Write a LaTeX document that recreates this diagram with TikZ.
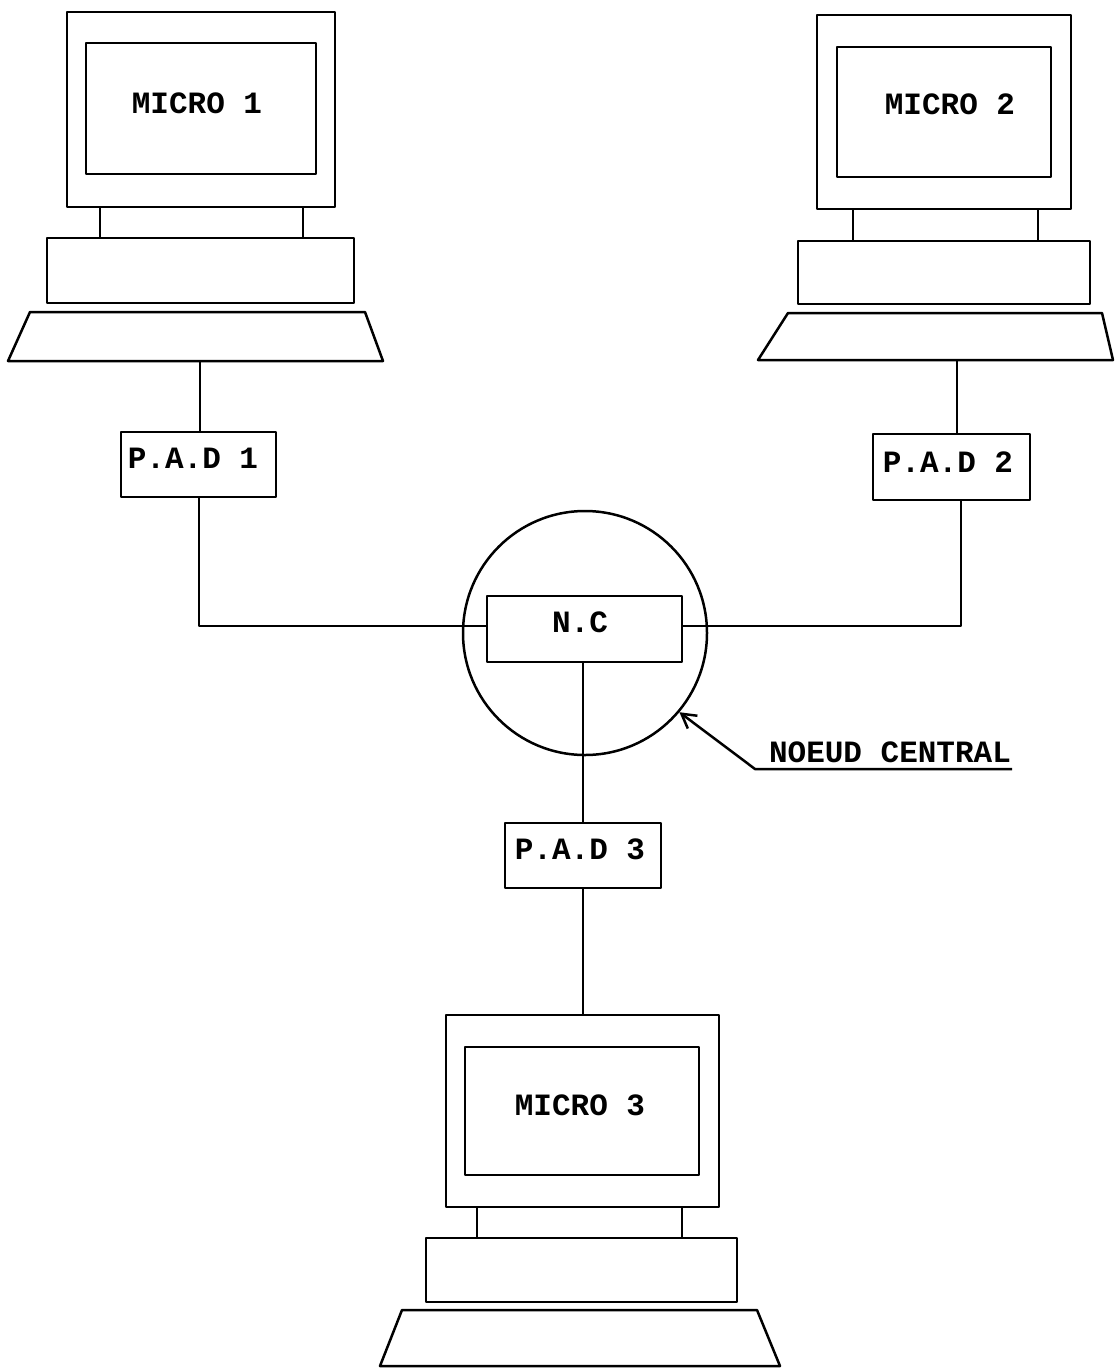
\documentclass[tikz,border=0pt]{standalone}
\usepackage{fontspec}
\setmonofont{Liberation Mono}
\usetikzlibrary{arrows.meta}
\begin{document}
\begin{tikzpicture}[x=1pt,y=-1pt,line width=2.5pt,line join=round,
  frame/.style={draw,line width=2.5pt,inner sep=0pt,outer sep=0pt},
  lbl/.style={inner sep=0pt,anchor=base,font=\ttfamily\bfseries\fontsize{31}{31}\selectfont}]
\useasboundingbox[fill=white] (0,0) rectangle (1119,1369);

% ---------- MICRO 1 ----------
\node[frame,minimum width=268pt,minimum height=195pt] (mon1) at (201,109.5) {};
\node[frame,minimum width=230pt,minimum height=131pt] (scr1) at (201,108.5) {};
\node[lbl] (t1) at (197,113) {MICRO 1};
\node[frame,minimum width=307pt,minimum height=65pt] (base1) at (200.5,270.5) {};
\draw (100,207) -- (100,238) (303,207) -- (303,238);
\draw (30,312) -- (365,312) -- (383,361) -- (8,361) -- cycle;
\coordinate (kb1) at (200,361);

% ---------- MICRO 2 ----------
\node[frame,minimum width=254pt,minimum height=194pt] (mon2) at (944,112) {};
\node[frame,minimum width=214pt,minimum height=130pt] (scr2) at (944,112) {};
\node[lbl] (t2) at (950,114) {MICRO 2};
\node[frame,minimum width=292pt,minimum height=63pt] (base2) at (944,272.5) {};
\draw (853,209) -- (853,241) (1038,209) -- (1038,241);
\draw (788,313) -- (1102,313) -- (1113,360) -- (758,360) -- cycle;
\coordinate (kb2) at (957,360);

% ---------- central node ----------
\node[draw,circle,line width=2.5pt,inner sep=0pt,minimum size=244pt] (circ) at (585,633) {};
\node[frame,fill=white,minimum width=195pt,minimum height=66pt] (nc) at (584.5,629) {};
\node[lbl] (tnc) at (580,632) {N.C};

% ---------- PADs ----------
\node[frame,minimum width=155pt,minimum height=65pt] (pad1) at (198.5,464.5) {};
\node[lbl] (tp1) at (193,468) {P.A.D 1};
\node[frame,minimum width=157pt,minimum height=66pt] (pad2) at (951.5,467) {};
\node[lbl] (tp2) at (948,472) {P.A.D 2};
\node[frame,minimum width=156pt,minimum height=65pt] (pad3) at (583,855.5) {};
\node[lbl] (tp3) at (580,859) {P.A.D 3};

% ---------- MICRO 3 ----------
\node[frame,minimum width=273pt,minimum height=192pt] (mon3) at (582.5,1111) {};
\node[frame,minimum width=234pt,minimum height=128pt] (scr3) at (582,1111) {};
\node[lbl] (t3) at (580,1115) {MICRO 3};
\node[frame,minimum width=311pt,minimum height=64pt] (base3) at (581.5,1270) {};
\draw (477,1207) -- (477,1238) (682,1207) -- (682,1238);
\draw (402,1310) -- (757,1310) -- (780,1366) -- (380,1366) -- cycle;

% ---------- connectors ----------
\coordinate (j1) at (199,626);
\coordinate (j2) at (961,626);
\draw (kb1) -- (kb1 |- pad1.north);
\draw (pad1.south -| j1) -- (j1) -- (j1 -| nc.west);
\draw (kb2) -- (kb2 |- pad2.north);
\draw (pad2.south -| j2) -- (j2) -- (j2 -| nc.east);
\draw (nc.south -| pad3.north) -- (pad3.north);
\draw (pad3.south) -- (pad3.south |- mon3.north);

% ---------- label with arrow ----------
\coordinate (ul) at (1012,769);
\coordinate (bend) at (755,769);
\draw[-{Straight Barb[length=14pt,width=16pt,line width=2.5pt]}] (ul) -- (bend) -- (circ.-40);
\node[lbl] (tcen) at (890,762) {NOEUD CENTRAL};
\end{tikzpicture}
\end{document}
